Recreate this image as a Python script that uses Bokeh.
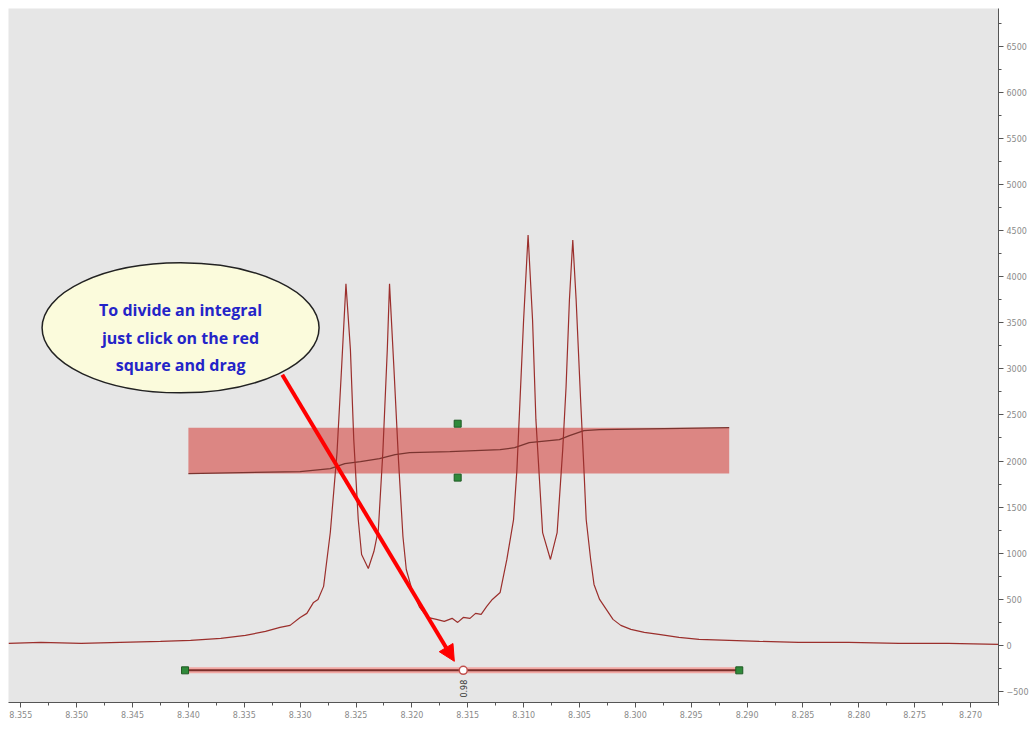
from bokeh.plotting import figure
from bokeh.models import Range1d, SingleIntervalTicker, Arrow, NormalHead, NumeralTickFormatter
from bokeh.core.properties import value
from bokeh.embed import file_html
from bokeh.resources import INLINE

# ---- spectrum (ppm, intensity) ----
ppm = [8.3561, 8.3532, 8.3496, 8.3461, 8.3425, 8.3398, 8.3371, 8.3349, 8.3331, 8.3318,
       8.3309, 8.3300, 8.3294, 8.3288, 8.3284, 8.3279, 8.3273, 8.3267, 8.3263, 8.3259,
       8.3255, 8.3252, 8.3248, 8.3245, 8.3239, 8.3234, 8.3230, 8.3226, 8.3222, 8.3220,
       8.3216, 8.3212, 8.3208, 8.3205, 8.3200, 8.3193, 8.3186, 8.3178, 8.3171, 8.3164,
       8.3159, 8.3154, 8.3148, 8.3143, 8.3138, 8.3133, 8.3128, 8.3121, 8.3115, 8.3109,
       8.3106, 8.3104, 8.3100, 8.3096, 8.3092, 8.3089, 8.3083, 8.3076, 8.3070, 8.3065,
       8.3062, 8.3059, 8.3056, 8.3053, 8.3049, 8.3046, 8.3044, 8.3040, 8.3037, 8.3032,
       8.3026, 8.3020, 8.3013, 8.3004, 8.2992, 8.2979, 8.2961, 8.2943, 8.2916, 8.2889,
       8.2854, 8.2809, 8.2764, 8.2720, 8.2675]
intensity = [22, 33, 22, 33, 43, 54, 76, 108, 152, 195,
             217, 303, 347, 466, 498, 640, 1224, 2091, 2990, 3922,
             3207, 2232, 1365, 986, 834, 1018, 1257, 2091, 3207, 3922,
             2990, 2015, 1181, 823, 607, 412, 303, 282, 260, 293,
             249, 303, 293, 347, 336, 423, 498, 574, 932, 1365,
             1907, 2449, 3532, 4453, 3532, 2449, 1224, 932, 1224, 2124,
             2806, 3749, 4399, 3749, 2665, 1907, 1365, 932, 661, 498,
             390, 282, 217, 173, 141, 119, 87, 65, 54, 43,
             33, 33, 22, 22, 11]

# ---- integral curve ----
integral_ppm = [8.3400, 8.3300, 8.3273, 8.3260, 8.3246, 8.3229, 8.3215, 8.3202, 8.3166,
                8.3121, 8.3108, 8.3095, 8.3068, 8.3059, 8.3046, 8.3032, 8.2916]
integral_val = [1864, 1885, 1918, 1972, 1993, 2026, 2069, 2091, 2102,
                2124, 2145, 2199, 2232, 2275, 2329, 2340, 2362]

# integral region box
box_left, box_right = 8.3400, 8.2916
box_bottom, box_top = 1864, 2362
handle_ppm = [8.3159, 8.3159]
handle_val = [2405, 1820]

# integral bar below the spectrum
bar_ppm = [8.3403, 8.2907]
bar_val = [-271, -271]
split_ppm = [8.3154]
split_val = [-271]
integral_label = ["0.98"]
label_val = [-470]

# callout
callout_lines = ["To divide an integral", "just click on the red", "square and drag"]
callout_ppm = 8.3407
callout_val = [3640, 3337, 3044]
callout_center_val = 3445
arrow_start = (8.3316, 2936)
arrow_end = (8.3162, -173)

# ticks
x_tick_step = 0.005
y_tick_step = 500

p = figure(frame_width=990, frame_height=694,
           x_range=Range1d(8.3561, 8.2675), y_range=Range1d(-620, 6910),
           output_backend="svg", toolbar_location=None, y_axis_location="right",
           min_border_left=8, min_border_top=8, min_border_bottom=0, min_border_right=0)

p.background_fill_color = "#e6e6e6"
p.border_fill_color = "white"
p.outline_line_color = None
p.grid.visible = False

p.xaxis.ticker = SingleIntervalTicker(interval=x_tick_step, num_minor_ticks=2)
p.xaxis.formatter = NumeralTickFormatter(format="0.000")
p.yaxis.ticker = SingleIntervalTicker(interval=y_tick_step, num_minor_ticks=2)
for ax in (p.xaxis, p.yaxis):
    ax.axis_line_color = "#555555"
    ax.major_tick_line_color = "#555555"
    ax.minor_tick_line_color = "#555555"
    ax.major_tick_in = 0
    ax.major_tick_out = 5
    ax.minor_tick_in = 0
    ax.minor_tick_out = 3
    ax.major_label_text_color = "#8a8a8a"
    ax.major_label_text_font = "DejaVu Sans"
    ax.major_label_text_font_size = "8px"
    ax.major_label_standoff = 3

# integral region
p.quad(left=[box_left], right=[box_right], bottom=[box_bottom], top=[box_top],
       fill_color="#dc8683", line_color=None)
p.line(integral_ppm, integral_val, line_color="#7a3530", line_width=1.3)
p.scatter(handle_ppm, handle_val, marker="square", size=7,
          fill_color="#2f8a3a", line_color="#1f5a24", line_width=1)

# spectrum
p.line(ppm, intensity, line_color="#9b2f2c", line_width=1.2)

# integral bar
p.line(bar_ppm, bar_val, line_color="#f2a8a4", line_width=6)
p.line(bar_ppm, bar_val, line_color="#7a2e2a", line_width=2)
p.scatter(bar_ppm, bar_val, marker="square", size=7,
          fill_color="#2f8a3a", line_color="#1f5a24", line_width=1)
p.scatter(split_ppm, split_val, marker="circle", size=8,
          fill_color="white", line_color="#c0504d", line_width=1.5)
p.text(x=split_ppm, y=label_val, text=integral_label, angle=1.5708,
       text_font=value("DejaVu Sans"), text_font_size="8px", text_color="#333333",
       text_align="center", text_baseline="middle")

# callout bubble
p.ellipse(x=[callout_ppm], y=[callout_center_val], width=[277], height=[130],
          width_units="screen", height_units="screen",
          fill_color="#fbfbdc", line_color="#222222", line_width=1.5)
p.text(x=[callout_ppm] * 3, y=callout_val, text=callout_lines,
       text_font=value("Open Sans"), text_font_style="bold", text_font_size="16px",
       text_color="#2424c8", text_align="center", text_baseline="middle")

p.add_layout(Arrow(end=NormalHead(size=16, fill_color="#ff0000", line_color="#ff0000"),
                   x_start=arrow_start[0], y_start=arrow_start[1],
                   x_end=arrow_end[0], y_end=arrow_end[1],
                   line_color="#ff0000", line_width=4))

open("out.html", "w").write(file_html(p, INLINE))
